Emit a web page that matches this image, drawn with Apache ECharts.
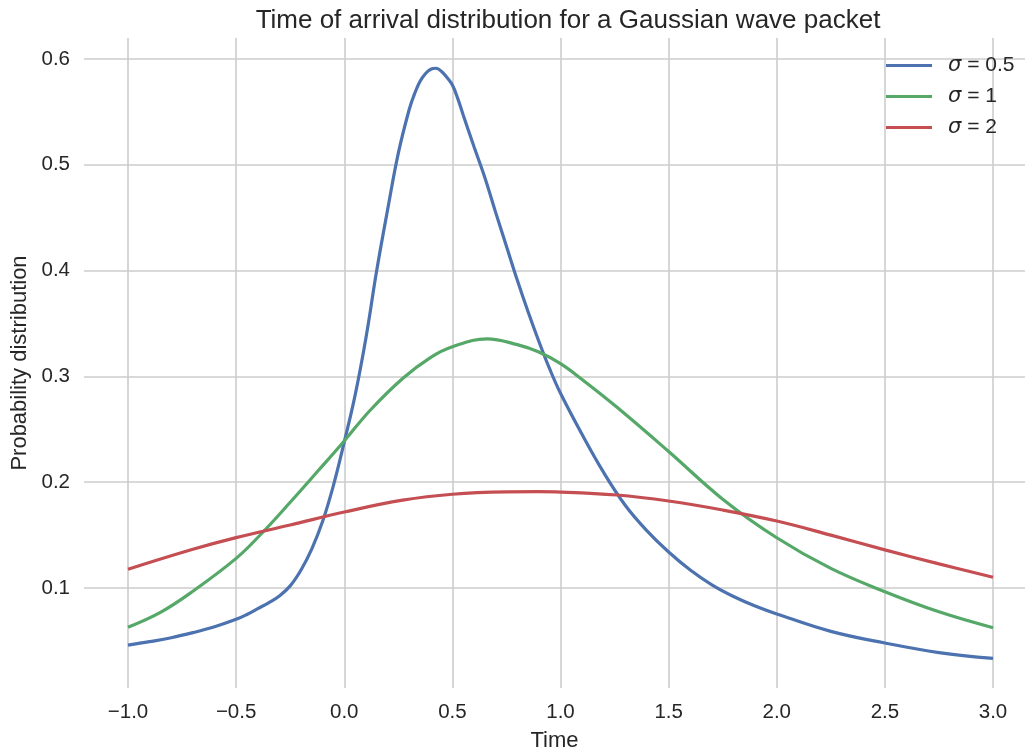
<!DOCTYPE html>
<html>
<head>
<meta charset="utf-8">
<script src="https://cdn.jsdelivr.net/npm/echarts@6/dist/echarts.min.js"></script>
<style>
  html, body { margin: 0; padding: 0; background: #fff; }
  #chart { width: 1025px; height: 753px; }
</style>
</head>
<body>
<div id="chart"></div>
<script>
// values
var timeNarrow = [-1.0, -0.9, -0.8, -0.7, -0.6, -0.5, -0.45, -0.4, -0.35, -0.3, -0.25, -0.2, -0.15, -0.1, -0.05, 0.0, 0.05, 0.1, 0.15, 0.2, 0.25, 0.3, 0.325, 0.35, 0.375, 0.4, 0.425, 0.45, 0.475, 0.5, 0.525, 0.55, 0.575, 0.6, 0.65, 0.7, 0.75, 0.8, 0.85, 0.9, 0.95, 1.0, 1.1, 1.2, 1.3, 1.4, 1.5, 1.6, 1.7, 1.8, 1.9, 2.0, 2.25, 2.5, 2.75, 3.0];
var probNarrow = [0.046, 0.0493, 0.053, 0.0578, 0.0634, 0.0704, 0.075, 0.0805, 0.086, 0.0925, 0.102, 0.117, 0.137, 0.163, 0.197, 0.238, 0.282, 0.336, 0.400, 0.457, 0.511, 0.552, 0.567, 0.5786, 0.586, 0.5903, 0.5912, 0.5882, 0.5825, 0.5754, 0.5625, 0.547, 0.532, 0.517, 0.488, 0.455, 0.423, 0.391, 0.361, 0.333, 0.307, 0.284, 0.245, 0.209, 0.178, 0.154, 0.134, 0.117, 0.103, 0.092, 0.083, 0.0755, 0.059, 0.048, 0.039, 0.0335];

var timeMid = [-1.0, -0.85, -0.7, -0.5, -0.38, -0.25, -0.12, 0.0, 0.12, 0.27, 0.4, 0.5, 0.66, 0.8, 0.9, 1.0, 1.1, 1.26, 1.5, 1.75, 2.0, 2.25, 2.5, 2.75, 3.0];
var probMid = [0.063, 0.077, 0.097, 0.128, 0.152, 0.181, 0.211, 0.239, 0.268, 0.298, 0.318, 0.328, 0.3355, 0.330, 0.323, 0.312, 0.297, 0.271, 0.229, 0.184, 0.1475, 0.1185, 0.0965, 0.0775, 0.0625];

var timeWide = [-1.0, -0.7, -0.5, -0.25, 0.0, 0.27, 0.5, 0.75, 0.9, 1.0, 1.26, 1.5, 1.75, 2.0, 2.25, 2.5, 2.75, 3.0];
var probWide = [0.1177, 0.1366, 0.1476, 0.1595, 0.1718, 0.183, 0.1886, 0.1908, 0.1910, 0.1907, 0.1879, 0.1822, 0.1737, 0.1633, 0.150, 0.136, 0.1228, 0.1101];

var seriesNames = ['σ = 0.5', 'σ = 1', 'σ = 2'];
var xTicks = [-1.0, -0.5, 0.0, 0.5, 1.0, 1.5, 2.0, 2.5, 3.0];
var yTicks = [0.1, 0.2, 0.3, 0.4, 0.5, 0.6];

var colors = ['#4C72B0', '#55A868', '#C44E52'];
var textColor = '#262626';
var font = '"Liberation Sans", Arial, sans-serif';

function pairs(xs, ys) {
  var out = [];
  for (var i = 0; i < xs.length; i++) out.push([xs[i], ys[i]]);
  return out;
}

function tickText(v) {
  return (v < 0 ? '\u2212' : '') + Math.abs(v).toFixed(1);
}

var chart = echarts.init(document.getElementById('chart'), null, { renderer: 'canvas' });

var lineSeries = [
  pairs(timeNarrow, probNarrow),
  pairs(timeMid, probMid),
  pairs(timeWide, probWide)
].map(function(data, i) {
  return {
    name: seriesNames[i],
    type: 'line',
    data: data,
    smooth: 0.4,
    showSymbol: false,
    lineStyle: { color: colors[i], width: 3.2 },
    itemStyle: { color: colors[i] }
  };
});

chart.setOption({
  animation: false,
  backgroundColor: '#fff',
  textStyle: { fontFamily: font, color: textColor },
  title: {
    text: 'Time of arrival distribution for a Gaussian wave packet',
    left: 563,
    textAlign: 'center',
    top: 3,
    textStyle: { fontFamily: font, fontSize: 26, fontWeight: 'normal', color: textColor }
  },
  legend: {
    orient: 'vertical',
    left: 886,
    top: 55,
    padding: 0,
    itemWidth: 46,
    itemHeight: 3.2,
    itemGap: 10,
    icon: 'rect',
    data: seriesNames,
    formatter: function(name) {
      return '{s|σ}' + name.slice(1);
    },
    textStyle: {
      fontFamily: font,
      fontSize: 21,
      color: textColor,
      padding: [0, 0, 0, 11],
      rich: {
        s: { fontFamily: '"DejaVu Sans", sans-serif', fontStyle: 'italic', fontSize: 21, color: textColor }
      }
    }
  },
  grid: {
    left: 84,
    top: 38,
    width: 941,
    height: 650,
    outerBoundsMode: 'none',
    containLabel: false
  },
  xAxis: {
    type: 'value',
    min: -1.2035,
    max: 3.1479,
    name: 'Time',
    nameLocation: 'middle',
    nameGap: 42,
    nameTextStyle: { fontFamily: font, fontSize: 22, color: textColor },
    axisLine: { show: false },
    axisTick: { show: false, customValues: xTicks },
    axisLabel: {
      customValues: xTicks,
      formatter: tickText,
      fontSize: 20.5,
      color: textColor,
      margin: 14
    },
    splitLine: { show: true, lineStyle: { color: '#cccccc', width: 1.6 } }
  },
  yAxis: {
    type: 'value',
    min: 0.0055,
    max: 0.6198,
    name: 'Probability distribution',
    nameLocation: 'middle',
    nameGap: 52,
    nameTextStyle: { fontFamily: font, fontSize: 22, color: textColor },
    axisLine: { show: false },
    axisTick: { show: false, customValues: yTicks },
    axisLabel: {
      customValues: yTicks,
      formatter: tickText,
      fontSize: 20.5,
      color: textColor,
      margin: 14
    },
    splitLine: { show: true, lineStyle: { color: '#cccccc', width: 1.6 } }
  },
  series: lineSeries
});
</script>
</body>
</html>
